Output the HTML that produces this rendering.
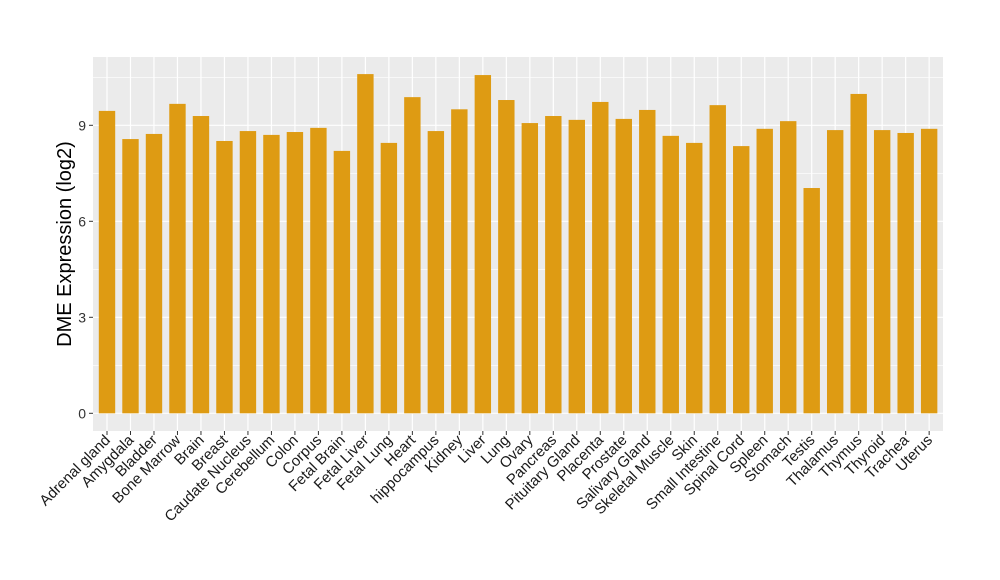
<!DOCTYPE html>
<html><head><meta charset="utf-8"><style>body{margin:0;background:#fff}svg{display:block}</style></head><body>
<svg width="1000" height="580" xmlns="http://www.w3.org/2000/svg" font-family="Liberation Sans, Arial, sans-serif">
<rect width="1000" height="580" fill="#fff"/>
<rect x="93" y="57" width="850" height="374" fill="#ebebeb"/>
<g stroke="#fff" stroke-width="0.6">
<line x1="93" x2="943" y1="365.3" y2="365.3"/><line x1="93" x2="943" y1="269.3" y2="269.3"/><line x1="93" x2="943" y1="173.3" y2="173.3"/><line x1="93" x2="943" y1="77.3" y2="77.3"/>
</g>
<g stroke="#fff" stroke-width="1.2">
<line x1="93" x2="943" y1="413.3" y2="413.3"/><line x1="93" x2="943" y1="317.3" y2="317.3"/><line x1="93" x2="943" y1="221.3" y2="221.3"/><line x1="93" x2="943" y1="125.3" y2="125.3"/>
</g>
<g stroke="#333"><line x1="89" x2="93" y1="413.3" y2="413.3"/><line x1="89" x2="93" y1="317.3" y2="317.3"/><line x1="89" x2="93" y1="221.3" y2="221.3"/><line x1="89" x2="93" y1="125.3" y2="125.3"/></g>
<g font-size="14" fill="#333" text-anchor="end">
<text x="86" y="418.3">0</text><text x="86" y="322.3">3</text><text x="86" y="226.3">6</text><text x="86" y="130.3">9</text>
</g>
<defs>
<g id="gl"><line x1="0" x2="0" y1="57" y2="431" stroke="#fff" stroke-width="1.2"/><line x1="0" x2="0" y1="431" y2="435" stroke="#333"/></g>
</defs>
<g fill="#de9b13" font-size="15">
<g transform="translate(107,0)"><use href="#gl"/><rect x="-8.2" y="110.9" width="16.4" height="302.4"/><text transform="translate(4,441) rotate(-45)" fill="#1a1a1a" text-anchor="end">Adrenal gland</text></g>
<g transform="translate(130.49,0)"><use href="#gl"/><rect x="-8.2" y="139.06" width="16.4" height="274.24"/><text transform="translate(4,441) rotate(-45)" fill="#1a1a1a" text-anchor="end">Amygdala</text></g>
<g transform="translate(153.98,0)"><use href="#gl"/><rect x="-8.2" y="133.94" width="16.4" height="279.36"/><text transform="translate(4,441) rotate(-45)" fill="#1a1a1a" text-anchor="end">Bladder</text></g>
<g transform="translate(177.47,0)"><use href="#gl"/><rect x="-8.2" y="103.86" width="16.4" height="309.44"/><text transform="translate(4,441) rotate(-45)" fill="#1a1a1a" text-anchor="end">Bone Marrow</text></g>
<g transform="translate(200.96,0)"><use href="#gl"/><rect x="-8.2" y="116.02" width="16.4" height="297.28"/><text transform="translate(4,441) rotate(-45)" fill="#1a1a1a" text-anchor="end">Brain</text></g>
<g transform="translate(224.45,0)"><use href="#gl"/><rect x="-8.2" y="140.98" width="16.4" height="272.32"/><text transform="translate(4,441) rotate(-45)" fill="#1a1a1a" text-anchor="end">Breast</text></g>
<g transform="translate(247.94,0)"><use href="#gl"/><rect x="-8.2" y="131.06" width="16.4" height="282.24"/><text transform="translate(4,441) rotate(-45)" fill="#1a1a1a" text-anchor="end">Caudate Nucleus</text></g>
<g transform="translate(271.43,0)"><use href="#gl"/><rect x="-8.2" y="134.9" width="16.4" height="278.4"/><text transform="translate(4,441) rotate(-45)" fill="#1a1a1a" text-anchor="end">Cerebellum</text></g>
<g transform="translate(294.92,0)"><use href="#gl"/><rect x="-8.2" y="132.02" width="16.4" height="281.28"/><text transform="translate(4,441) rotate(-45)" fill="#1a1a1a" text-anchor="end">Colon</text></g>
<g transform="translate(318.41,0)"><use href="#gl"/><rect x="-8.2" y="127.86" width="16.4" height="285.44"/><text transform="translate(4,441) rotate(-45)" fill="#1a1a1a" text-anchor="end">Corpus</text></g>
<g transform="translate(341.9,0)"><use href="#gl"/><rect x="-8.2" y="150.9" width="16.4" height="262.4"/><text transform="translate(4,441) rotate(-45)" fill="#1a1a1a" text-anchor="end">Fetal Brain</text></g>
<g transform="translate(365.39,0)"><use href="#gl"/><rect x="-8.2" y="74.1" width="16.4" height="339.2"/><text transform="translate(4,441) rotate(-45)" fill="#1a1a1a" text-anchor="end">Fetal Liver</text></g>
<g transform="translate(388.88,0)"><use href="#gl"/><rect x="-8.2" y="142.9" width="16.4" height="270.4"/><text transform="translate(4,441) rotate(-45)" fill="#1a1a1a" text-anchor="end">Fetal Lung</text></g>
<g transform="translate(412.37,0)"><use href="#gl"/><rect x="-8.2" y="97.14" width="16.4" height="316.16"/><text transform="translate(4,441) rotate(-45)" fill="#1a1a1a" text-anchor="end">Heart</text></g>
<g transform="translate(435.86,0)"><use href="#gl"/><rect x="-8.2" y="131.06" width="16.4" height="282.24"/><text transform="translate(4,441) rotate(-45)" fill="#1a1a1a" text-anchor="end">hippocampus</text></g>
<g transform="translate(459.35,0)"><use href="#gl"/><rect x="-8.2" y="109.3" width="16.4" height="304"/><text transform="translate(4,441) rotate(-45)" fill="#1a1a1a" text-anchor="end">Kidney</text></g>
<g transform="translate(482.84,0)"><use href="#gl"/><rect x="-8.2" y="75.06" width="16.4" height="338.24"/><text transform="translate(4,441) rotate(-45)" fill="#1a1a1a" text-anchor="end">Liver</text></g>
<g transform="translate(506.33,0)"><use href="#gl"/><rect x="-8.2" y="100.02" width="16.4" height="313.28"/><text transform="translate(4,441) rotate(-45)" fill="#1a1a1a" text-anchor="end">Lung</text></g>
<g transform="translate(529.82,0)"><use href="#gl"/><rect x="-8.2" y="123.06" width="16.4" height="290.24"/><text transform="translate(4,441) rotate(-45)" fill="#1a1a1a" text-anchor="end">Ovary</text></g>
<g transform="translate(553.31,0)"><use href="#gl"/><rect x="-8.2" y="116.02" width="16.4" height="297.28"/><text transform="translate(4,441) rotate(-45)" fill="#1a1a1a" text-anchor="end">Pancreas</text></g>
<g transform="translate(576.8,0)"><use href="#gl"/><rect x="-8.2" y="119.86" width="16.4" height="293.44"/><text transform="translate(4,441) rotate(-45)" fill="#1a1a1a" text-anchor="end">Pituitary Gland</text></g>
<g transform="translate(600.29,0)"><use href="#gl"/><rect x="-8.2" y="101.94" width="16.4" height="311.36"/><text transform="translate(4,441) rotate(-45)" fill="#1a1a1a" text-anchor="end">Placenta</text></g>
<g transform="translate(623.78,0)"><use href="#gl"/><rect x="-8.2" y="118.9" width="16.4" height="294.4"/><text transform="translate(4,441) rotate(-45)" fill="#1a1a1a" text-anchor="end">Prostate</text></g>
<g transform="translate(647.27,0)"><use href="#gl"/><rect x="-8.2" y="109.94" width="16.4" height="303.36"/><text transform="translate(4,441) rotate(-45)" fill="#1a1a1a" text-anchor="end">Salivary Gland</text></g>
<g transform="translate(670.76,0)"><use href="#gl"/><rect x="-8.2" y="135.86" width="16.4" height="277.44"/><text transform="translate(4,441) rotate(-45)" fill="#1a1a1a" text-anchor="end">Skeletal Muscle</text></g>
<g transform="translate(694.25,0)"><use href="#gl"/><rect x="-8.2" y="142.9" width="16.4" height="270.4"/><text transform="translate(4,441) rotate(-45)" fill="#1a1a1a" text-anchor="end">Skin</text></g>
<g transform="translate(717.74,0)"><use href="#gl"/><rect x="-8.2" y="105.14" width="16.4" height="308.16"/><text transform="translate(4,441) rotate(-45)" fill="#1a1a1a" text-anchor="end">Small Intestine</text></g>
<g transform="translate(741.23,0)"><use href="#gl"/><rect x="-8.2" y="146.1" width="16.4" height="267.2"/><text transform="translate(4,441) rotate(-45)" fill="#1a1a1a" text-anchor="end">Spinal Cord</text></g>
<g transform="translate(764.72,0)"><use href="#gl"/><rect x="-8.2" y="128.82" width="16.4" height="284.48"/><text transform="translate(4,441) rotate(-45)" fill="#1a1a1a" text-anchor="end">Spleen</text></g>
<g transform="translate(788.21,0)"><use href="#gl"/><rect x="-8.2" y="121.14" width="16.4" height="292.16"/><text transform="translate(4,441) rotate(-45)" fill="#1a1a1a" text-anchor="end">Stomach</text></g>
<g transform="translate(811.7,0)"><use href="#gl"/><rect x="-8.2" y="188.02" width="16.4" height="225.28"/><text transform="translate(4,441) rotate(-45)" fill="#1a1a1a" text-anchor="end">Testis</text></g>
<g transform="translate(835.19,0)"><use href="#gl"/><rect x="-8.2" y="130.1" width="16.4" height="283.2"/><text transform="translate(4,441) rotate(-45)" fill="#1a1a1a" text-anchor="end">Thalamus</text></g>
<g transform="translate(858.68,0)"><use href="#gl"/><rect x="-8.2" y="93.94" width="16.4" height="319.36"/><text transform="translate(4,441) rotate(-45)" fill="#1a1a1a" text-anchor="end">Thymus</text></g>
<g transform="translate(882.17,0)"><use href="#gl"/><rect x="-8.2" y="130.1" width="16.4" height="283.2"/><text transform="translate(4,441) rotate(-45)" fill="#1a1a1a" text-anchor="end">Thyroid</text></g>
<g transform="translate(905.66,0)"><use href="#gl"/><rect x="-8.2" y="132.98" width="16.4" height="280.32"/><text transform="translate(4,441) rotate(-45)" fill="#1a1a1a" text-anchor="end">Trachea</text></g>
<g transform="translate(929.15,0)"><use href="#gl"/><rect x="-8.2" y="128.82" width="16.4" height="284.48"/><text transform="translate(4,441) rotate(-45)" fill="#1a1a1a" text-anchor="end">Uterus</text></g>
</g>
<text transform="translate(71,244) rotate(-90)" font-size="20" fill="#000" text-anchor="middle">DME Expression (log2)</text>
</svg>
</body></html>
